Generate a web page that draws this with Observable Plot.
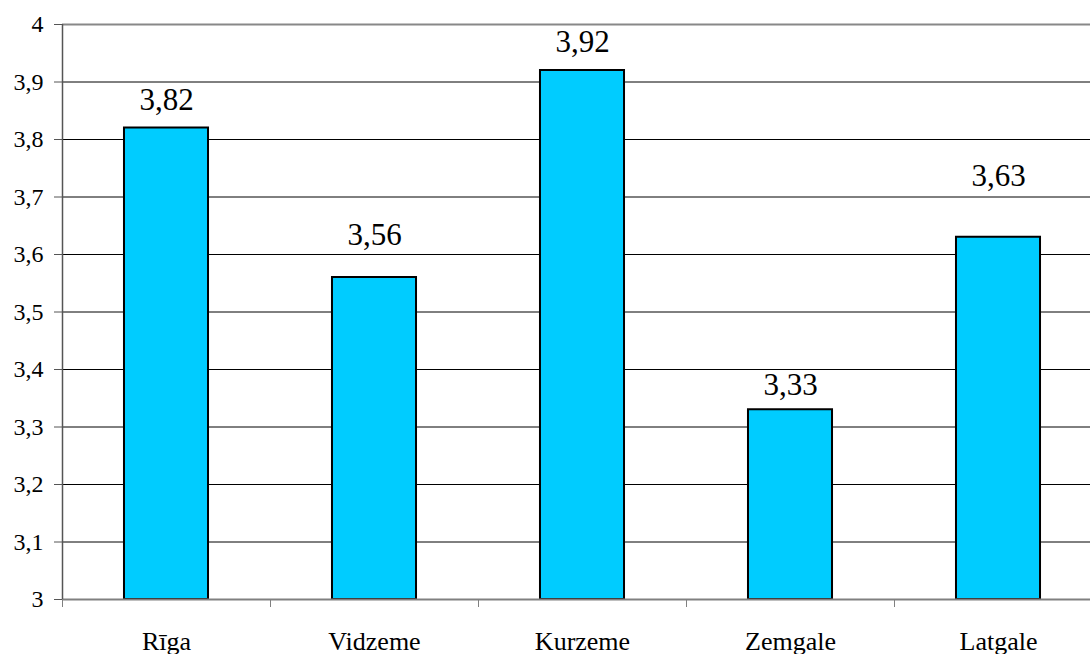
<!DOCTYPE html>
<html>
<head>
<meta charset="utf-8">
<script src="https://cdn.jsdelivr.net/npm/d3@7"></script>
<script src="https://cdn.jsdelivr.net/npm/@observablehq/plot@0.6"></script>
<style>
  html, body { margin: 0; padding: 0; background: #fff; }
  #chart svg { display: block; overflow: visible; }
  #chart svg text { font-family: 'Liberation Serif', 'Times New Roman', serif !important; }
</style>
</head>
<body>
<div id="chart"></div>
<script>
const regions = ["Rīga", "Vidzeme", "Kurzeme", "Zemgale", "Latgale"];
const values = [3.82, 3.56, 3.92, 3.33, 3.63];
const yTicks = [3, 3.1, 3.2, 3.3, 3.4, 3.5, 3.6, 3.7, 3.8, 3.9, 4];
const yDomain = [3, 4];

const data = regions.map((r, i) => ({region: r, value: values[i]}));
const fmt = d => d3.format(".2~f")(d).replace(".", ",");

const W = 1090, H = 654;
const mL = 62, mT = 24, mB = 55;
const xRange = [mL, 1102];
const step = (xRange[1] - xRange[0]) / regions.length;
// label offsets (px above bar top) as placed in the reference
const labelDy = [-27.5, -42.5, -28.5, -24.5, -61.5];
const font = "'Liberation Serif', 'Times New Roman', serif";

const chart = Plot.plot({
  width: W,
  height: H,
  marginLeft: mL,
  marginRight: 0,
  marginTop: mT,
  marginBottom: mB,
  style: {fontFamily: font, color: "#000", background: "#fff"},
  x: {type: "band", domain: regions, range: xRange, paddingInner: 0.596, paddingOuter: 0.298, round: false, label: null},
  y: {domain: yDomain, label: null},
  marks: [
    Plot.ruleY(yTicks.filter(t => t > yDomain[0] && t < yDomain[1]), {y: d => d, stroke: "#000", strokeWidth: 1}),
    Plot.ruleY([yDomain[1]], {y: d => d, stroke: "#888", strokeWidth: 2}),
    Plot.barY(data, {x: "region", y1: yDomain[0], y2: "value", fill: "#00CCFF", stroke: "#000", strokeWidth: 2}),
    Plot.ruleY([yDomain[0]], {y: d => d, stroke: "#808080", strokeWidth: 2}),
    Plot.ruleX(regions.slice(0, 1), {x: d => d, dx: -step / 2, stroke: "#555", strokeWidth: 1.5}),
    Plot.axisY({ticks: yTicks, tickFormat: fmt, tickSize: 8, tickPadding: 11, fontSize: 24, fontFamily: font, stroke: "#555", label: null}),
    Plot.axisX({tickSize: 8, fill: "none", stroke: "#808080", dx: -step / 2, label: null}),
    Plot.axisX({tickSize: 0, tickPadding: 32, fontSize: 26, fontFamily: font, label: null}),
    ...data.map((d, i) => Plot.text([d], {x: "region", y: "value", text: e => fmt(e.value), fontSize: 31, fontFamily: font, fill: "#000", dy: labelDy[i]}))
  ]
});

document.getElementById("chart").appendChild(chart);
</script>
</body>
</html>
